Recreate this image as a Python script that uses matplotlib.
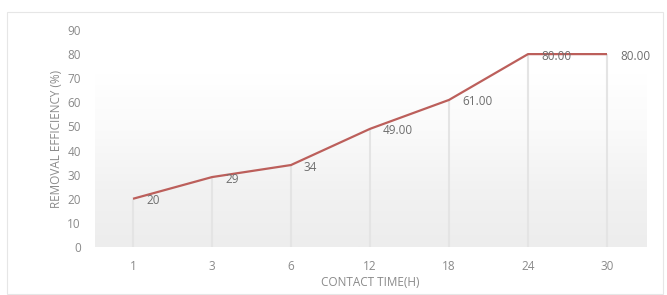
import matplotlib
matplotlib.use("Agg")
import matplotlib.pyplot as plt
import numpy as np
from matplotlib.colors import LinearSegmentedColormap
from matplotlib.patches import Rectangle

categories = ["1", "3", "6", "12", "18", "24", "30"]
values = [20, 29, 34, 49, 61, 80, 80]
value_labels = ["20", "29", "34", "49.00", "61.00", "80.00", "80.00"]
y_ticks = [0, 10, 20, 30, 40, 50, 60, 70, 80, 90]

plt.rcParams['font.family'] = ['Open Sans', 'DejaVu Sans']

fig = plt.figure(figsize=(6.67, 2.95), dpi=100)
fig.patch.set_facecolor("white")
# outer border
fig.patches.append(Rectangle((7/667, 1/295), 656/667, 282/295, transform=fig.transFigure,
                             fill=False, edgecolor="#e6e6e6", linewidth=0.8))

ax = fig.add_axes([93.5/667, 48/295, 553/667, 217/295])
x = np.arange(len(categories))
ax.set_xlim(-0.5, len(categories) - 0.5)
ax.set_ylim(0, 90)

# gradient background of plot area
cmap = LinearSegmentedColormap.from_list("g", ["#ededed", "#f2f2f2", "#fafafa", "#ffffff"])
grad = np.linspace(0, 1, 100).reshape(-1, 1)
ax.imshow(grad, extent=(-0.48, len(categories) - 0.5, 0, 72), origin="lower",
          cmap=cmap, aspect="auto", zorder=0)

# drop lines
ax.vlines(x, 0, values, colors="#e4e4e4", linewidth=1.5, zorder=1)
ax.plot(x, values, color="#bc5f5b", linewidth=1.6, zorder=3, solid_capstyle="butt")

for xi, v, lab in zip(x, values, value_labels):
    ax.annotate(lab, (xi, v), xytext=(13, -2), textcoords="offset pixels",
                ha="left", va="center", fontsize=8.5, color="#6e6e6e", zorder=4)

ax.set_xticks(x)
ax.set_xticklabels(categories)
ax.set_yticks(y_ticks)
ax.tick_params(axis="both", length=0, labelsize=8.5, labelcolor="#8a8a8a")
ax.tick_params(axis="x", pad=9.5)
ax.tick_params(axis="y", pad=9)
for s in ax.spines.values():
    s.set_visible(False)
ax.set_facecolor("none")

ax.set_ylabel("REMOVAL EFFICIENCY (%)", fontsize=8.5, color="#8a8a8a", labelpad=3)
ax.set_xlabel("CONTACT TIME(H)", fontsize=8.5, color="#8a8a8a", labelpad=2)

fig.savefig("out.png", dpi=100, facecolor="white")
